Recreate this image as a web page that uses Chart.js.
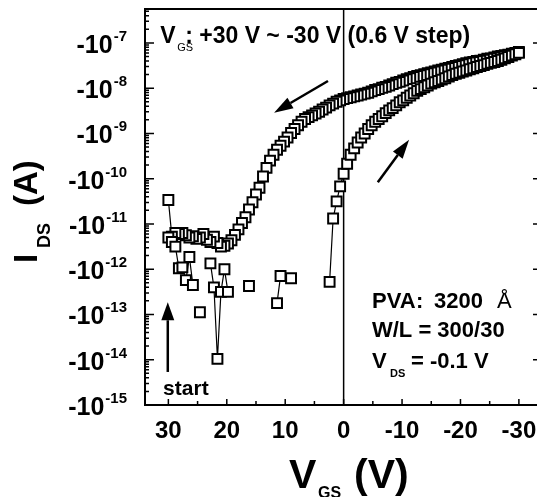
<!DOCTYPE html>
<html>
<head>
<meta charset="utf-8">
<script src="https://cdn.jsdelivr.net/npm/chart.js@4.4.1/dist/chart.umd.min.js"></script>
<style>
  html, body { margin: 0; padding: 0; background: #fff; }
</style>
</head>
<body>
<canvas id="idsChart" width="546" height="497"></canvas>
<script>
// gate voltage steps (V), +30 V -> -30 V, 0.6 V step
const vgs = [30, 29.4, 28.8, 28.2, 27.6, 27, 26.4, 25.8, 25.2, 24.6,
  24, 23.4, 22.8, 22.2, 21.6, 21, 20.4, 19.8, 19.2, 18.6,
  18, 17.4, 16.8, 16.2, 15.6, 15, 14.4, 13.8, 13.2, 12.6,
  12, 11.4, 10.8, 10.2, 9.6, 9, 8.4, 7.8, 7.2, 6.6,
  6, 5.4, 4.8, 4.2, 3.6, 3, 2.4, 1.8, 1.2, 0.6,
  0, -0.6, -1.2, -1.8, -2.4, -3, -3.6, -4.2, -4.8, -5.4,
  -6, -6.6, -7.2, -7.8, -8.4, -9, -9.6, -10.2, -10.8, -11.4,
  -12, -12.6, -13.2, -13.8, -14.4, -15, -15.6, -16.2, -16.8, -17.4,
  -18, -18.6, -19.2, -19.8, -20.4, -21, -21.6, -22.2, -22.8, -23.4,
  -24, -24.6, -25.2, -25.8, -26.4, -27, -27.6, -28.2, -28.8, -29.4, -30];

// log10 |I_DS| for the forward sweep (+30 -> -30), null where nothing is plotted
const logIdsForward = [-11.3, -11.4, -11.5, -11.98, -11.96, -12.24, -11.73, -12.35, null, -12.95,
  null, null, -11.87, -12.4, -13.98, -12.5, -12.0, -12.5, null, null,
  null, null, null, -12.37, null, null, null, null, null, null,
  null, -12.75, -12.15, null, null, -12.2, null, null, null, null,
  null, null, null, null, null, null, -12.28, -10.88, -10.5, -10.17,
  -9.89, -9.67, -9.47, -9.33, -9.2, -9.09, -9.0, -8.9, -8.82, -8.74,
  -8.68, -8.62, -8.55, -8.49, -8.44, -8.38, -8.31, -8.27, -8.21, -8.16,
  -8.11, -8.06, -8.02, -7.98, -7.94, -7.9, -7.87, -7.84, -7.81, -7.78,
  -7.74, -7.71, -7.68, -7.66, -7.63, -7.61, -7.58, -7.56, -7.53, -7.51,
  -7.49, -7.46, -7.44, -7.42, -7.4, -7.37, -7.34, -7.31, -7.28, -7.25, -7.22];

// log10 |I_DS| for the reverse sweep (-30 -> +30), listed in the same VGS order as above
const logIdsReverse = [-10.47, -11.28, -11.2, -11.22, -11.2, -11.25, -11.3, -11.27, -11.33, -11.3,
  -11.22, -11.35, -11.4, -11.28, -11.42, -11.5, -11.48, -11.43, -11.36, -11.24,
  -11.12, -10.98, -10.85, -10.68, -10.52, -10.35, -10.2, -9.95, -9.76, -9.6,
  -9.47, -9.36, -9.27, -9.18, -9.09, -8.99, -8.9, -8.82, -8.74, -8.68,
  -8.64, -8.6, -8.56, -8.52, -8.47, -8.43, -8.38, -8.34, -8.3, -8.27,
  -8.24, -8.22, -8.2, -8.18, -8.16, -8.14, -8.12, -8.1, -8.07, -8.04,
  -8.02, -7.99, -7.97, -7.94, -7.91, -7.88, -7.86, -7.83, -7.8, -7.78,
  -7.75, -7.73, -7.71, -7.69, -7.67, -7.65, -7.63, -7.61, -7.59, -7.57,
  -7.55, -7.53, -7.51, -7.49, -7.47, -7.45, -7.43, -7.42, -7.4, -7.39,
  -7.37, -7.35, -7.34, -7.32, -7.3, -7.29, -7.27, -7.26, -7.24, -7.22, -7.2];

// tick labels
const yDecades = [-15, -14, -13, -12, -11, -10, -9, -8, -7];
const xTicks = [30, 20, 10, 0, -10, -20, -30];

const FONT = '"Liberation Sans", Arial, sans-serif';

function toPoints(logs) {
  return vgs.map((v, i) => ({ x: v, y: logs[i] === null ? null : Math.pow(10, logs[i]) }));
}

function arrow(ctx, x1, y1, x2, y2, len, half) {
  const a = Math.atan2(y2 - y1, x2 - x1);
  const bx = x2 - len * Math.cos(a), by = y2 - len * Math.sin(a);
  ctx.beginPath();
  ctx.moveTo(x1, y1);
  ctx.lineTo(bx, by);
  ctx.stroke();
  ctx.beginPath();
  ctx.moveTo(x2, y2);
  ctx.lineTo(bx + half * Math.sin(a), by - half * Math.cos(a));
  ctx.lineTo(bx - half * Math.sin(a), by + half * Math.cos(a));
  ctx.closePath();
  ctx.fill();
}

const decor = {
  id: 'decor',
  beforeDatasetsDraw(chart) {
    const { ctx, chartArea: a, scales: { x } } = chart;
    const px = x.getPixelForValue(0);
    ctx.save();
    ctx.strokeStyle = '#000';
    ctx.lineWidth = 1.5;
    ctx.beginPath();
    ctx.moveTo(px, a.top);
    ctx.lineTo(px, a.bottom);
    ctx.stroke();
    ctx.restore();
  },
  afterDraw(chart) {
    const { ctx, chartArea: a, scales: { x, y } } = chart;
    const X = v => x.getPixelForValue(v);
    const Y = l => y.getPixelForValue(Math.pow(10, l));
    ctx.save();
    ctx.fillStyle = '#000';
    ctx.strokeStyle = '#000';

    // frame
    ctx.lineWidth = 2;
    ctx.beginPath();
    ctx.moveTo(a.right, a.top);
    ctx.lineTo(a.left, a.top);
    ctx.lineTo(a.left, a.bottom);
    ctx.lineTo(a.right, a.bottom);
    ctx.stroke();

    // y ticks (inside), major + minor
    ctx.lineWidth = 1.5;
    ctx.beginPath();
    yDecades.forEach(p => {
      const py = Y(p);
      ctx.moveTo(a.left, py); ctx.lineTo(a.left + 9, py);
      ctx.moveTo(a.right, py); ctx.lineTo(a.right - 4, py);
      for (let m = 2; m <= 9; m++) {
        const l = p + Math.log10(m);
        if (l > Math.log10(y.max)) continue;
        const my = Y(l);
        ctx.moveTo(a.left, my); ctx.lineTo(a.left + 4, my);
      }
    });
    // x ticks every 5 V
    for (let v = 30; v >= -30; v -= 5) {
      const px = X(v);
      ctx.moveTo(px, a.bottom); ctx.lineTo(px, a.bottom - (v % 10 === 0 ? 6 : 4));
    }
    ctx.stroke();

    // y tick labels: -10^n
    ctx.textBaseline = 'alphabetic';
    ctx.textAlign = 'left';
    yDecades.forEach(p => {
      const py = Y(p);
      const right = 127;
      ctx.font = 'bold 15px ' + FONT;
      const sup = String(p);
      const sw = ctx.measureText(sup).width;
      ctx.fillText(sup, right - sw, py - 2);
      ctx.font = 'bold 25px ' + FONT;
      const bw = ctx.measureText('-10').width;
      ctx.fillText('-10', right - sw - bw - 1, py + 10);
    });

    // x tick labels
    ctx.textAlign = 'center';
    ctx.font = 'bold 24px ' + FONT;
    xTicks.forEach(v => ctx.fillText(String(v), X(v), 438));

    // axis titles
    ctx.textAlign = 'left';
    ctx.font = 'bold 41px ' + FONT;
    ctx.fillText('V', 289, 488);
    ctx.font = 'bold 16px ' + FONT;
    ctx.fillText('GS', 318, 498);
    ctx.font = 'bold 41px ' + FONT;
    ctx.fillText('(V)', 354, 488);

    ctx.save();
    ctx.translate(37, 262);
    ctx.rotate(-Math.PI / 2);
    ctx.font = 'bold 33px ' + FONT;
    ctx.fillText('I', -1, 0);
    ctx.font = 'bold 18px ' + FONT;
    ctx.fillText('DS', 14, 13);
    ctx.font = 'bold 33px ' + FONT;
    ctx.fillText('(A)', 56, 0);
    ctx.restore();

    // sweep annotation
    ctx.font = 'bold 23px ' + FONT;
    ctx.fillText('V', X(31.4), Y(-7));
    ctx.font = '11px ' + FONT;
    ctx.fillText('GS', X(31.4) + 17, Y(-7) + 8);
    ctx.font = 'bold 23px ' + FONT;
    ctx.fillText(': +30 V ~ -30 V (0.6 V step)', X(31.4) + 25, Y(-7));

    // device info
    const ix = X(-4.85);
    ctx.font = 'bold 22px ' + FONT;
    ctx.fillText('PVA', ix, Y(-12.86));
    ctx.fillText(':', ix + 44, Y(-12.86));
    ctx.fillText('3200', ix + 62, Y(-12.86));
    ctx.font = '22px ' + FONT;
    ctx.fillText('\u00C5', ix + 125, Y(-12.86));
    ctx.font = 'bold 22px ' + FONT;
    ctx.fillText('W/L = 300/30', ix, Y(-13.5));
    ctx.fillText('V', ix, Y(-14.18));
    ctx.font = 'bold 11px ' + FONT;
    ctx.fillText('DS', ix + 18, Y(-14.18) + 9);
    ctx.font = 'bold 22px ' + FONT;
    ctx.fillText('= -0.1 V', ix + 39, Y(-14.18));

    ctx.font = 'bold 21px ' + FONT;
    ctx.fillText('start', X(30.9), Y(-14.78));

    // sweep direction arrows
    ctx.lineWidth = 2.5;
    arrow(ctx, X(2.68), Y(-7.84), X(11.9), Y(-8.54), 19, 6);
    arrow(ctx, X(-5.85), Y(-10.08), X(-11.2), Y(-9.14), 19, 6);
    arrow(ctx, X(30.1), Y(-14.27), X(30.1), Y(-12.73), 18, 6.5);

    ctx.restore();
  }
};

const pointStyle = {
  showLine: true,
  spanGaps: false,
  borderColor: '#000',
  borderWidth: 1.2,
  pointStyle: 'rect',
  pointRadius: 7,
  pointBorderWidth: 2,
  pointBorderColor: '#000',
  pointBackgroundColor: '#fff',
  tension: 0
};

new Chart(document.getElementById('idsChart'), {
  type: 'line',
  data: {
    datasets: [
      Object.assign({ label: 'forward', data: toPoints(logIdsForward) }, pointStyle),
      Object.assign({ label: 'reverse', data: toPoints(logIdsReverse).reverse() }, pointStyle)
    ]
  },
  options: {
    responsive: false,
    animation: false,
    devicePixelRatio: 1,
    layout: { padding: { top: 8, right: 0, left: 0, bottom: 0 } },
    plugins: { legend: { display: false }, tooltip: { enabled: false } },
    scales: {
      x: {
        type: 'linear',
        reverse: true,
        min: -33.1,
        max: 34,
        grid: { display: false },
        border: { display: false },
        ticks: { display: false },
        afterFit: s => { s.height = 92; }
      },
      y: {
        type: 'logarithmic',
        min: 1e-15,
        max: Math.pow(10, -6.25),
        grid: { display: false },
        border: { display: false },
        ticks: { display: false },
        afterFit: s => { s.width = 145; }
      }
    }
  },
  plugins: [decor]
});
</script>
</body>
</html>
